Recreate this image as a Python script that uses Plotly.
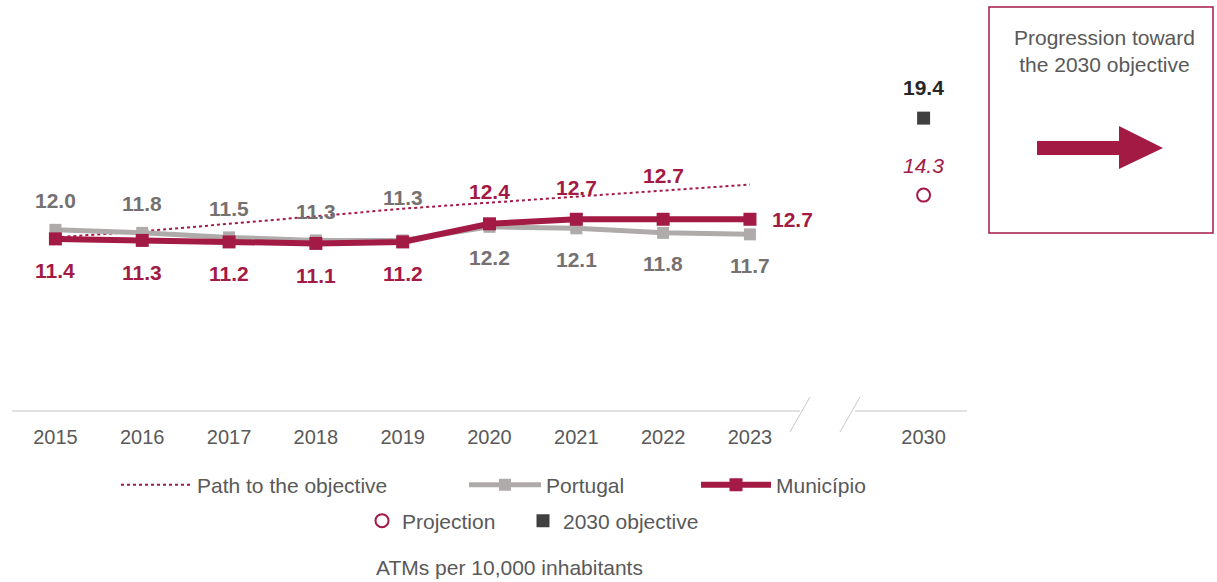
import plotly.graph_objects as go

# ---------------- data ----------------
years = ["2015", "2016", "2017", "2018", "2019", "2020", "2021", "2022", "2023"]
gap_cat = " "
target_year = "2030"
portugal = [12.0, 11.8, 11.5, 11.3, 11.3, 12.2, 12.1, 11.8, 11.7]
municipio = [11.4, 11.3, 11.2, 11.1, 11.2, 12.4, 12.7, 12.7, 12.7]
path_obj = [11.5, 11.9, 12.4, 12.9, 13.4, 13.8, 14.2, 14.6, 15.0]
projection = [14.3]
objective = [19.4]

# label placement (style): top / high (above the path line) / bottom / right
portugal_label_pos = ["top"] * 4 + ["high"] + ["bottom"] * 4
municipio_label_pos = ["bottom"] * 5 + ["top", "top", "high", "right"]

RED = "#A31A45"
GREY = "#AFABAB"
GREY_TXT = "#767171"
DARK = "#404040"
TXT = "#595959"
FONT = "Liberation Sans, Arial, sans-serif"

categories = years + [gap_cat, target_year]
cat_idx = {c: i for i, c in enumerate(categories)}

W, H = 1217, 582
ML, MR, MT, MB = 12, 250, 20, 171
PW, PH = W - ML - MR, H - MT - MB


def px(xp):
    return (xp - ML) / PW


def py(yp):
    return (MT + PH - yp) / PH


fig = go.Figure()

fig.add_trace(go.Scatter(
    x=years, y=path_obj, mode="lines", name="Path to the objective",
    line=dict(color=RED, width=2, dash="dot"), legend="legend",
    hoverinfo="skip"))
fig.add_trace(go.Scatter(
    x=years, y=portugal, mode="lines+markers", name="Portugal",
    line=dict(color=GREY, width=5), marker=dict(symbol="square", size=12, color=GREY),
    legend="legend2"))
fig.add_trace(go.Scatter(
    x=years, y=municipio, mode="lines+markers", name="Município",
    line=dict(color=RED, width=6), marker=dict(symbol="square", size=13, color=RED),
    legend="legend3"))
fig.add_trace(go.Scatter(
    x=[target_year], y=projection, mode="markers", name="Projection",
    marker=dict(symbol="circle-open", size=13, color=RED, line=dict(width=2, color=RED)),
    legend="legend4"))
fig.add_trace(go.Scatter(
    x=[target_year], y=objective, mode="markers", name="2030 objective",
    marker=dict(symbol="square", size=13, color=DARK),
    legend="legend5"))

ann = []
pt_shift = {"top": 29, "high": 43, "bottom": -31}
for yr, v, pos in zip(years, portugal, portugal_label_pos):
    ann.append(dict(x=cat_idx[yr], y=v, xref="x", yref="y", text=f"<b>{v:.1f}</b>", showarrow=False,
                    xanchor="center", yanchor="middle",
                    yshift=pt_shift[pos],
                    font=dict(size=21, color=GREY_TXT, family=FONT)))
mu_shift = {"top": 32, "high": 44, "bottom": -32, "right": 0}
for yr, v, pos in zip(years, municipio, municipio_label_pos):
    xs = 43 if pos == "right" else 0
    ann.append(dict(x=cat_idx[yr], y=v, xref="x", yref="y", text=f"<b>{v:.1f}</b>", showarrow=False,
                    xanchor="center", yanchor="middle",
                    yshift=mu_shift[pos], xshift=xs,
                    font=dict(size=21, color=RED, family=FONT)))
ann.append(dict(x=cat_idx[target_year], y=objective[0], xref="x", yref="y",
                text=f"<b>{objective[0]:.1f}</b>", showarrow=False,
                xanchor="center", yanchor="middle",
                yshift=31, font=dict(size=21, color="#262626", family=FONT)))
ann.append(dict(x=cat_idx[target_year], y=projection[0], xref="x", yref="y",
                text=f"<i>{projection[0]:.1f}</i>", showarrow=False,
                xanchor="center", yanchor="middle",
                yshift=30, font=dict(size=21, color=RED, family=FONT)))
ann.append(dict(x=px(510), y=py(567), xref="paper", yref="paper",
                xanchor="center", yanchor="middle",
                text="ATMs per 10,000 inhabitants", showarrow=False,
                font=dict(size=21, color=TXT, family=FONT)))
ann.append(dict(x=px(1104), y=py(51), xref="paper", yref="paper",
                xanchor="center", yanchor="middle",
                text="Progression toward<br>the 2030 objective", showarrow=False,
                font=dict(size=21, color=TXT, family=FONT)))

shapes = []
AX = "#D9D9D9"
shapes.append(dict(type="line", xref="paper", yref="paper", x0=px(12), x1=px(800),
                   y0=py(411), y1=py(411), line=dict(color=AX, width=1.5)))
shapes.append(dict(type="line", xref="paper", yref="paper", x0=px(855), x1=px(967),
                   y0=py(411), y1=py(411), line=dict(color=AX, width=1.5)))
for xa, xb in [(810, 790), (860, 840)]:
    shapes.append(dict(type="line", xref="paper", yref="paper", x0=px(xa), x1=px(xb),
                       y0=py(397), y1=py(432), line=dict(color="#C8C8C8", width=1)))
# right box
shapes.append(dict(type="rect", xref="paper", yref="paper", x0=px(989), x1=px(1213),
                   y0=py(233), y1=py(7), line=dict(color=RED, width=1.5)))
arrow_pts = [(1037, 141), (1119, 141), (1119, 126), (1163, 148), (1119, 169), (1119, 155), (1037, 155)]
path_str = "M " + " L ".join(f"{px(a):.5f},{py(b):.5f}" for a, b in arrow_pts) + " Z"
shapes.append(dict(type="path", xref="paper", yref="paper", path=path_str,
                   fillcolor=RED, line=dict(width=0)))

leg_common = dict(orientation="h", bgcolor="rgba(0,0,0,0)", borderwidth=0,
                  font=dict(size=21, color=TXT, family=FONT),
                  xanchor="left", yanchor="middle")

fig.update_layout(
    width=W, height=H,
    margin=dict(l=ML, r=MR, t=MT, b=MB),
    paper_bgcolor="white", plot_bgcolor="white",
    font=dict(family=FONT, color=TXT),
    xaxis=dict(type="category", categoryorder="array",
               categoryarray=categories,
               range=[-0.5, 10.5], showgrid=False, zeroline=False, showline=False,
               ticks="", tickfont=dict(size=20, color=TXT, family=FONT),
               ticklabelstandoff=12),
    yaxis=dict(range=[0, 25.9], visible=False, showgrid=False, zeroline=False),
    showlegend=True,
    legend=dict(**leg_common, itemwidth=71, x=px(116), y=py(485)),
    legend2=dict(**leg_common, itemwidth=72, x=px(464), y=py(485)),
    legend3=dict(**leg_common, itemwidth=70, x=px(696), y=py(485)),
    legend4=dict(**leg_common, itemwidth=30, x=px(362), y=py(521)),
    legend5=dict(**leg_common, itemwidth=30, x=px(523), y=py(521)),
    annotations=ann,
    shapes=shapes,
)

fig.write_html("out.html", config={"displayModeBar": False},
               post_script="document.body.style.margin='0';")
